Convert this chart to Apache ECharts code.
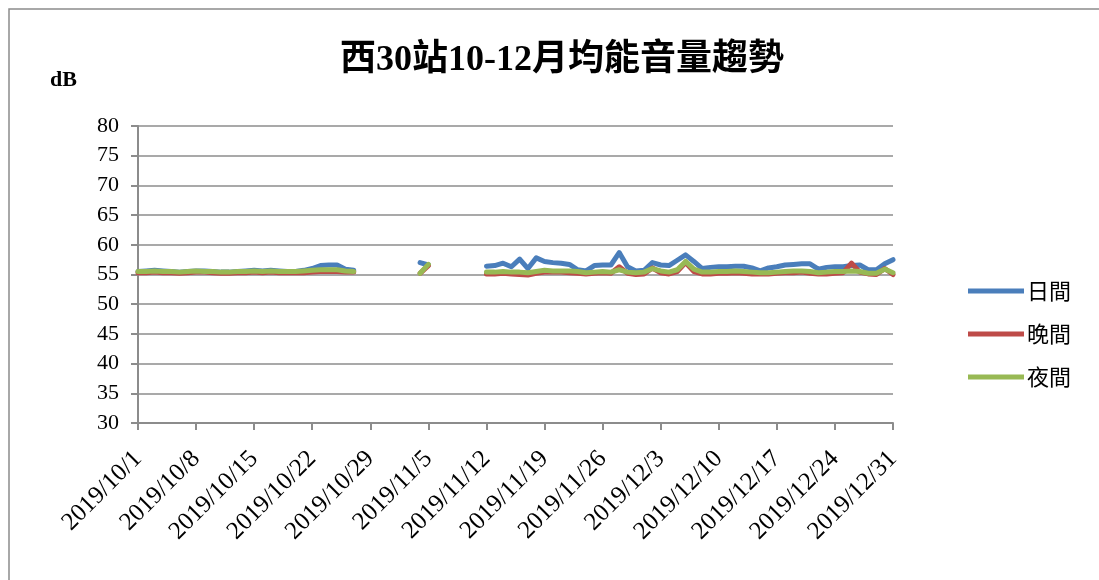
<!DOCTYPE html>
<html>
<head>
<meta charset="utf-8">
<script src="https://cdn.jsdelivr.net/npm/echarts@6/dist/echarts.min.js"></script>
<style>
  html, body { margin: 0; padding: 0; background: #fff; }
  #chart { width: 1099px; height: 580px; }
</style>
</head>
<body>
<div id="chart"></div>
<script>
// 日期 2019/10/1 ~ 2019/12/31
const dates = [];
for (let d = new Date(2019, 9, 1); d <= new Date(2019, 11, 31); d.setDate(d.getDate() + 1)) {
  dates.push(d.getFullYear() + "/" + (d.getMonth() + 1) + "/" + d.getDate());
}

const seriesNames = ["日間", "晚間", "夜間"];
const yTicks = [30, 35, 40, 45, 50, 55, 60, 65, 70, 75, 80];

// 日間
const dayValues = [
  55.5, 55.6, 55.7, 55.6, 55.5, 55.4, 55.5, 55.6, 55.6, 55.5,
  55.4, 55.4, 55.5, 55.6, 55.7, 55.6, 55.7, 55.6, 55.5, 55.5,
  55.7, 56.0, 56.5, 56.6, 56.6, 55.9, 55.7, null, null, null,
  null, null, null, null, 57.0, 56.6, null, null, null, null,
  null, null, 56.4, 56.5, 56.9, 56.3, 57.6, 56.0, 57.8, 57.2,
  57.0, 56.9, 56.7, 55.8, 55.6, 56.5, 56.6, 56.6, 58.7, 56.3,
  55.6, 55.7, 57.0, 56.6, 56.5, 57.4, 58.3, 57.2, 56.0, 56.2,
  56.3, 56.3, 56.4, 56.4, 56.1, 55.6, 56.1, 56.3, 56.6, 56.7,
  56.8, 56.8, 55.9, 56.2, 56.3, 56.3, 56.5, 56.6, 55.8, 55.8,
  56.8, 57.5
];
// 晚間
const eveningValues = [
  55.3, 55.3, 55.4, 55.3, 55.3, 55.2, 55.3, 55.4, 55.4, 55.3,
  55.2, 55.2, 55.3, 55.3, 55.4, 55.3, 55.4, 55.3, 55.3, 55.3,
  55.3, 55.4, 55.5, 55.5, 55.5, 55.4, 55.4, null, null, null,
  null, null, null, null, 55.2, 56.5, null, null, null, null,
  null, null, 55.1, 55.1, 55.2, 55.1, 55.0, 54.9, 55.2, 55.4,
  55.4, 55.4, 55.3, 55.2, 55.1, 55.2, 55.3, 55.2, 56.3, 55.2,
  55.0, 55.1, 56.1, 55.3, 55.1, 55.5, 57.0, 55.5, 55.1, 55.1,
  55.2, 55.2, 55.3, 55.2, 55.1, 55.1, 55.1, 55.2, 55.3, 55.3,
  55.4, 55.2, 55.1, 55.1, 55.2, 55.3, 56.9, 55.4, 55.1, 55.0,
  56.0, 55.0
];
// 夜間
const nightValues = [
  55.5, 55.5, 55.6, 55.5, 55.5, 55.4, 55.5, 55.6, 55.5, 55.5,
  55.4, 55.4, 55.5, 55.5, 55.6, 55.5, 55.6, 55.5, 55.5, 55.5,
  55.6, 55.7, 55.8, 55.8, 55.8, 55.6, 55.5, null, null, null,
  null, null, null, null, 55.2, 56.7, null, null, null, null,
  null, null, 55.4, 55.4, 55.5, 55.4, 55.4, 55.3, 55.5, 55.7,
  55.6, 55.6, 55.6, 55.5, 55.3, 55.4, 55.5, 55.4, 55.8, 55.4,
  55.3, 55.4, 56.0, 55.6, 55.4, 55.8, 57.2, 55.9, 55.4, 55.4,
  55.5, 55.5, 55.6, 55.5, 55.4, 55.3, 55.3, 55.4, 55.5, 55.6,
  55.6, 55.5, 55.3, 55.4, 55.5, 55.5, 55.6, 55.5, 55.2, 55.2,
  55.9, 55.3
];

const colors = ["#4a7ebb", "#be4b48", "#98b954"];
const serif = "'Liberation Serif', 'Times New Roman', 'Noto Sans CJK TC', serif";

const chart = echarts.init(document.getElementById("chart"));

function makeLine(name, data) {
  return {
    name: name,
    type: "line",
    data: data,
    showSymbol: false,
    symbol: "none",
    connectNulls: false,
    lineStyle: { width: 5, cap: "round", join: "round" }
  };
}

const option = {
  animation: false,
  color: colors,
  title: {
    text: "西30站10-12月均能音量趨勢",
    left: 557,
    top: 38,
    textAlign: "center",
    textStyle: { fontFamily: serif, fontSize: 36, fontWeight: "bold", color: "#000" }
  },
  graphic: [
    {
      type: "rect",
      shape: { x: 9, y: 9, width: 1110, height: 600 },
      style: { fill: "none", stroke: "#8c8c8c", lineWidth: 1.5 },
      silent: true
    },
    {
      type: "text",
      left: 50,
      top: 69,
      style: { text: "dB", font: "bold 22px " + serif, fill: "#000" }
    }
  ],
  legend: {
    orient: "vertical",
    left: 963,
    top: 275,
    itemGap: 21,
    itemWidth: 56,
    itemHeight: 5,
    icon: "rect",
    data: seriesNames,
    textStyle: { fontFamily: "'Noto Sans CJK TC', serif", fontSize: 22, color: "#000", padding: [0, 0, 0, -2] }
  },
  grid: { left: 138, right: 206, top: 126, bottom: 157 },
  xAxis: {
    type: "category",
    data: dates,
    boundaryGap: false,
    axisLine: { lineStyle: { color: "#8c8c8c", width: 2 } },
    axisTick: { show: true, interval: 6, length: 7, alignWithLabel: true, lineStyle: { color: "#8c8c8c", width: 2 } },
    axisLabel: {
      interval: 6,
      rotate: 45,
      margin: 32,
      fontFamily: serif,
      fontSize: 25,
      color: "#000"
    },
    splitLine: { show: false }
  },
  yAxis: {
    type: "value",
    min: yTicks[0],
    max: yTicks[yTicks.length - 1],
    interval: 5,
    axisLine: { show: true, lineStyle: { color: "#8c8c8c", width: 2 } },
    axisTick: { show: true, length: 7, lineStyle: { color: "#8c8c8c", width: 2 } },
    axisLabel: { margin: 19, fontFamily: serif, fontSize: 22, color: "#000" },
    splitLine: { lineStyle: { color: "#8c8c8c", width: 1.5 } }
  },
  series: [
    makeLine(seriesNames[0], dayValues),
    makeLine(seriesNames[1], eveningValues),
    makeLine(seriesNames[2], nightValues)
  ]
};

chart.setOption(option);
</script>
</body>
</html>
